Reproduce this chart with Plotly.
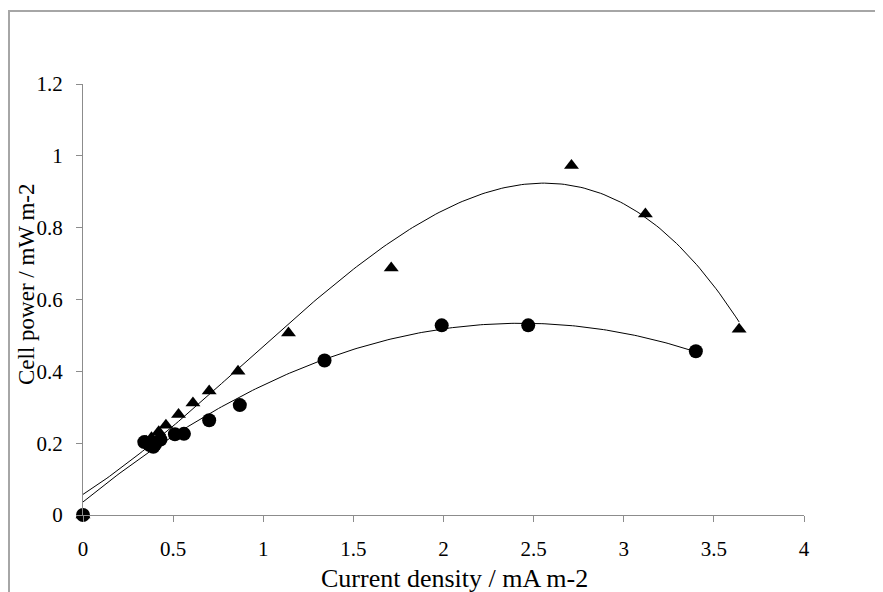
import numpy as np
import plotly.graph_objects as go

# Triangle series
tri_x = [0, 0.35, 0.38, 0.42, 0.46, 0.53, 0.61, 0.70, 0.86, 1.14, 1.71, 2.71, 3.12, 3.64]
tri_y = [0, 0.205, 0.215, 0.232, 0.25, 0.28, 0.312, 0.345, 0.40, 0.507, 0.688, 0.973, 0.838, 0.517]

# Circle series
cir_x = [0, 0.34, 0.37, 0.39, 0.40, 0.43, 0.51, 0.56, 0.70, 0.87, 1.34, 1.99, 2.47, 3.40]
cir_y = [0, 0.203, 0.195, 0.19, 0.197, 0.21, 0.225, 0.226, 0.264, 0.306, 0.43, 0.528, 0.528, 0.456]

x_ticks = [0, 0.5, 1, 1.5, 2, 2.5, 3, 3.5, 4]
x_tick_labels = ["0", "0.5", "1", "1.5", "2", "2.5", "3", "3.5", "4"]
y_ticks = [0, 0.2, 0.4, 0.6, 0.8, 1.0, 1.2]
y_tick_labels = ["0", "0.2", "0.4", "0.6", "0.8", "1", "1.2"]

# polynomial trendlines (like spreadsheet trendlines)
tri_coef = np.polyfit(tri_x, tri_y, 3)
cir_coef = np.polyfit(cir_x, cir_y, 2)
tx = np.linspace(0, max(tri_x), 200)
cx = np.linspace(0, max(cir_x), 200)

fig = go.Figure()
fig.add_trace(go.Scatter(x=tx, y=np.polyval(tri_coef, tx), mode="lines",
                         line=dict(color="black", width=1), hoverinfo="skip"))
fig.add_trace(go.Scatter(x=cx, y=np.polyval(cir_coef, cx), mode="lines",
                         line=dict(color="black", width=1), hoverinfo="skip"))
fig.add_trace(go.Scatter(x=cir_x, y=cir_y, mode="markers", cliponaxis=False,
                         marker=dict(symbol="circle", size=14, color="black")))
fig.add_trace(go.Scatter(x=tri_x, y=tri_y, mode="markers", cliponaxis=False,
                         marker=dict(symbol="triangle-up", size=13, color="black")))

font_family = "Liberation Serif, Times New Roman, serif"

fig.update_layout(
    width=875, height=584,
    margin=dict(l=75, r=79, t=76, b=77),
    paper_bgcolor="white", plot_bgcolor="white",
    showlegend=False,
    font=dict(family=font_family, color="black", size=21),
    xaxis=dict(range=[0, 4], tickvals=x_ticks, ticktext=x_tick_labels,
               showgrid=False, zeroline=False, showline=True, linecolor="#8c8c8c",
               linewidth=1, ticks="outside", ticklen=6, tickcolor="#8c8c8c",
               tickfont=dict(size=21, family=font_family), ticklabelstandoff=9),
    yaxis=dict(range=[0, 1.2], tickvals=y_ticks, ticktext=y_tick_labels,
               showgrid=False, zeroline=False, showline=True, linecolor="#8c8c8c",
               linewidth=1, ticks="outside", ticklen=6, tickcolor="#8c8c8c",
               tickfont=dict(size=21, family=font_family), ticklabelstandoff=9),
    annotations=[
        dict(text="Current density / mA m-2", xref="paper", yref="paper",
             x=(454 - 83) / 721, y=(515 - 578) / 431, xanchor="center", yanchor="middle",
             showarrow=False, font=dict(size=26, family=font_family)),
        dict(text="Cell power / mW m-2", xref="paper", yref="paper",
             x=(26 - 83) / 721, y=(515 - 285) / 431, xanchor="center", yanchor="middle",
             textangle=-90, showarrow=False, font=dict(size=23, family=font_family)),
    ],
    shapes=[dict(type="rect", xref="paper", yref="paper",
                 x0=(9 - 83) / 721, y0=(515 - 620) / 431,
                 x1=(920 - 83) / 721, y1=(515 - 11) / 431,
                 line=dict(color="#a6a6a6", width=2), fillcolor="rgba(0,0,0,0)",
                 layer="below")],
)

fig.write_html("out.html")
